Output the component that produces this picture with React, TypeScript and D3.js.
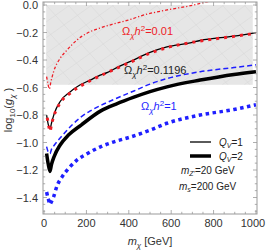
import * as d3 from "d3";

// (m_chi [GeV], log10 g_chi)
const relic001Q1: [number, number][] = [
  [12, -0.52], [18, -0.57], [25, -0.61], [32, -0.56], [45, -0.485], [75, -0.39],
  [107, -0.33], [155, -0.255], [203, -0.205], [268, -0.165], [339, -0.133],
  [418, -0.1], [455, -0.08], [580, -0.036], [684, -0.007], [760, 0.02], [800, 0.035],
];
const relic001Q2: [number, number][] = [
  [15, -0.82], [22, -0.88], [28, -0.92], [35, -0.87], [48, -0.8], [77, -0.71],
  [124, -0.64], [171, -0.59], [218, -0.55], [265, -0.515], [300, -0.49],
  [408, -0.415], [500, -0.35], [580, -0.31], [737, -0.262], [896, -0.228], [1000, -0.205],
];
const relic01196Q1: [number, number][] = [
  [12, -0.8], [20, -0.87], [28, -0.9], [35, -0.86], [48, -0.79], [77, -0.7],
  [124, -0.63], [171, -0.58], [218, -0.546], [265, -0.51], [300, -0.49],
  [350, -0.45], [408, -0.41], [500, -0.345], [580, -0.305], [690, -0.275],
  [737, -0.258], [896, -0.226], [1000, -0.2],
];
const relic01196Q2: [number, number][] = [
  [12, -1.08], [20, -1.16], [28, -1.21], [35, -1.16], [48, -1.1], [75, -1.02],
  [115, -0.946], [175, -0.873], [268, -0.77], [340, -0.72], [424, -0.67],
  [500, -0.63], [580, -0.595], [737, -0.546], [896, -0.505], [1000, -0.485],
];
const relic1Q1: [number, number][] = [
  [12, -1.03], [20, -1.07], [28, -1.08], [35, -1.05], [48, -1.02], [80, -0.96],
  [127, -0.88], [170, -0.82], [218, -0.77], [268, -0.73], [340, -0.68],
  [424, -0.625], [500, -0.575], [580, -0.535], [737, -0.485], [896, -0.455], [1000, -0.435],
];
const relic1Q2: [number, number][] = [
  [12, -1.36], [20, -1.41], [28, -1.45], [35, -1.43], [45, -1.395], [60, -1.32],
  [85, -1.25], [115, -1.19], [155, -1.128], [205, -1.08], [268, -1.03],
  [330, -0.995], [408, -0.96], [500, -0.91], [580, -0.86], [737, -0.8],
  [896, -0.76], [1000, -0.725],
];
// shaded excluded region: [x0, x1], [y0, y1]
const shadeX = [10, 985];
const shadeY = [-0.58, 0];

const xMajor = [0, 200, 400, 600, 800, 1000];
const yMajor = [0, -0.2, -0.4, -0.6, -0.8, -1.0, -1.2, -1.4];

const W = 266;
const H = 250;
const L = 43, R = 257, T = 2, B = 214;

const x = d3.scaleLinear().domain([-5, 1005]).range([L, R]);
const y = d3.scaleLinear().domain([-1.52, 0.022]).range([B, T]);

const line = d3
  .line<[number, number]>()
  .x((d) => x(d[0]))
  .y((d) => y(d[1]))
  .curve(d3.curveMonotoneX);

const font = "Liberation Sans, Arial, sans-serif";
const red = "#ee1c25";
const blue = "#1f1fff";
const frame = "#999";

const fmt = (v: number) => (v === 0 ? "0.0" : "\u2212" + Math.abs(v).toFixed(1));

export default function App() {
  const xMinor = d3.range(0, 1001, 50);
  const yMinor = d3.range(-1.5, 0.001, 0.05);
  const gx0 = x(shadeX[0]), gx1 = x(shadeX[1]);
  const gy0 = y(shadeY[1]), gy1 = y(shadeY[0]);
  const meshStep = 22;
  const mesh = d3.range(-6, 12).map((i) => gx0 + i * meshStep);

  return (
    <svg
      width={W}
      height={H}
      style={{ position: "absolute", left: 0, top: 0, background: "#fff" }}
      fontFamily={font}
    >
      <defs>
        <clipPath id="plot">
          <rect x={L} y={T} width={R - L} height={B - T} />
        </clipPath>
        <clipPath id="shade">
          <rect x={gx0} y={gy0} width={gx1 - gx0} height={gy1 - gy0} />
        </clipPath>
      </defs>

      <rect x={gx0} y={gy0} width={gx1 - gx0} height={gy1 - gy0} fill="#e6e6e6" />
      <g clipPath="url(#shade)" stroke="#d6d6d6" strokeWidth={0.5}>
        {mesh.map((m, i) => (
          <line key={"a" + i} x1={m} y1={gy1} x2={m + (gy1 - gy0) * 1.4} y2={gy0} />
        ))}
        {mesh.map((m, i) => (
          <line key={"b" + i} x1={m} y1={gy0} x2={m + (gy1 - gy0) * 0.9} y2={gy1} />
        ))}
      </g>

      <g clipPath="url(#plot)" fill="none">
        <path d={line(relic1Q2) ?? ""} stroke={blue} strokeWidth={3.5} strokeDasharray="3.5,3.5" />
        <path d={line(relic01196Q2) ?? ""} stroke="#000" strokeWidth={3.5} />
        <path d={line(relic1Q1) ?? ""} stroke={blue} strokeWidth={1.5} strokeDasharray="5,3" />
        <path d={line(relic01196Q1) ?? ""} stroke="#000" strokeWidth={1.3} />
        <path d={line(relic001Q2) ?? ""} stroke={red} strokeWidth={3} strokeDasharray="3,5" />
        <path d={line(relic001Q1) ?? ""} stroke={red} strokeWidth={1.3} strokeDasharray="3,2,1.2,2" />
      </g>

      {/* frame and ticks */}
      <rect x={L} y={T} width={R - L} height={B - T} fill="none" stroke={frame} strokeWidth={1} />
      <g stroke={frame} strokeWidth={0.8}>
        {xMinor.map((v) => {
          const len = v % 200 === 0 ? 4 : 2.2;
          return (
            <g key={"x" + v}>
              <line x1={x(v)} x2={x(v)} y1={B} y2={B - len} />
              <line x1={x(v)} x2={x(v)} y1={T} y2={T + len} />
            </g>
          );
        })}
        {yMinor.map((v, i) => {
          const major = yMajor.some((m) => Math.abs(m - v) < 1e-6);
          const len = major ? 4 : 2.2;
          return (
            <g key={"y" + i}>
              <line x1={L} x2={L + len} y1={y(v)} y2={y(v)} />
              <line x1={R} x2={R - len} y1={y(v)} y2={y(v)} />
            </g>
          );
        })}
      </g>
      <g fontSize={11} fill="#333">
        {xMajor.map((v) => (
          <text
            key={v}
            x={Math.min(x(v), W - 13)}
            y={B + 13}
            textAnchor="middle"
          >
            {v}
          </text>
        ))}
        {yMajor.map((v) => (
          <text key={v} x={L - 5} y={y(v) + 4} textAnchor="end">
            {fmt(v)}
          </text>
        ))}
      </g>

      {/* axis titles */}
      <text x={150} y={245} fontSize={11} textAnchor="middle" fill="#333">
        <tspan fontStyle="italic">m</tspan>
        <tspan fontStyle="italic" fontSize={8} dy={3}>χ</tspan>
        <tspan dy={-3}> [GeV]</tspan>
      </text>
      <text transform="translate(12,110) rotate(-90)" fontSize={11} textAnchor="middle" fill="#333">
        <tspan>log</tspan>
        <tspan fontSize={8} dy={3}>10</tspan>
        <tspan dy={-3}>(</tspan>
        <tspan fontStyle="italic">g</tspan>
        <tspan fontStyle="italic" fontSize={8} dy={3}>χ</tspan>
        <tspan dy={-3}> )</tspan>
      </text>

      {/* curve labels */}
      <text x={122} y={35} fontSize={11} fill={red}>
        <tspan>Ω</tspan>
        <tspan fontStyle="italic" fontSize={8} dy={3}>χ</tspan>
        <tspan fontStyle="italic" dy={-3}>h</tspan>
        <tspan fontSize={8} dy={-4}>2</tspan>
        <tspan dy={4}>=0.01</tspan>
      </text>
      <text x={124} y={74} fontSize={11} fill="#222">
        <tspan>Ω</tspan>
        <tspan fontStyle="italic" fontSize={8} dy={3}>χ</tspan>
        <tspan fontStyle="italic" dy={-3}>h</tspan>
        <tspan fontSize={8} dy={-4}>2</tspan>
        <tspan dy={4}>=0.1196</tspan>
      </text>
      <text x={141} y={110} fontSize={11} fill={blue}>
        <tspan>Ω</tspan>
        <tspan fontStyle="italic" fontSize={8} dy={3}>χ</tspan>
        <tspan fontStyle="italic" dy={-3}>h</tspan>
        <tspan fontSize={8} dy={-4}>2</tspan>
        <tspan dy={4}>=1</tspan>
      </text>

      {/* legend */}
      <line x1={190} x2={211} y1={142} y2={142} stroke="#000" strokeWidth={1.3} />
      <line x1={190} x2={211} y1={156} y2={156} stroke="#000" strokeWidth={3.5} />
      <g fontSize={10} fill="#222">
        <text x={219} y={146}>
          <tspan fontStyle="italic">Q</tspan>
          <tspan fontStyle="italic" fontSize={7} dy={2}>V</tspan>
          <tspan dy={-2}>=1</tspan>
        </text>
        <text x={219} y={160}>
          <tspan fontStyle="italic">Q</tspan>
          <tspan fontStyle="italic" fontSize={7} dy={2}>V</tspan>
          <tspan dy={-2}>=2</tspan>
        </text>
        <text x={181} y={174}>
          <tspan fontStyle="italic">m</tspan>
          <tspan fontStyle="italic" fontSize={7} dy={2}>Z'</tspan>
          <tspan dy={-2}>=20 GeV</tspan>
        </text>
        <text x={179} y={190}>
          <tspan fontStyle="italic">m</tspan>
          <tspan fontStyle="italic" fontSize={7} dy={2}>s</tspan>
          <tspan dy={-2}>=200 GeV</tspan>
        </text>
      </g>
    </svg>
  );
}
